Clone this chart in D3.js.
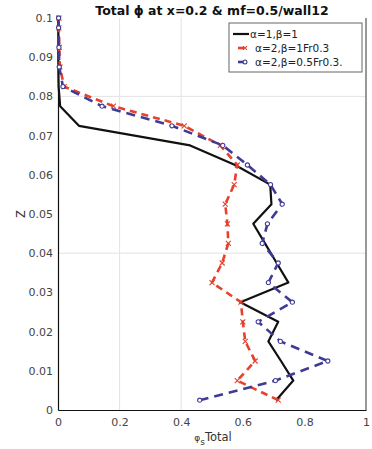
<!DOCTYPE html>
<html>
<head>
<meta charset="utf-8">
<script src="https://cdn.jsdelivr.net/npm/d3@7"></script>
<style>
  body { margin: 0; background: #fff; }
  svg { display: block; }
</style>
</head>
<body>
<svg width="372" height="449"></svg>
<script>
// height of the cell centres (Z)
var zVals = [0.0025, 0.0075, 0.0125, 0.0175, 0.0225, 0.0275, 0.0325, 0.0375, 0.0425, 0.0475,
             0.0525, 0.0575, 0.0625, 0.0675, 0.0725, 0.0775, 0.0825, 0.0875, 0.0925, 0.0975, 0.1];

// phi_s total for each run
var phiA1B1 = [0.708, 0.764, 0.724, 0.683, 0.715, 0.592, 0.748, 0.71, 0.672, 0.634,
               0.693, 0.689, 0.575, 0.429, 0.068, 0.007, 0.002, 0.001, 0.001, 0.001, 0.001];
var phiA2B1 = [0.715, 0.582, 0.64, 0.608, 0.6, 0.594, 0.5, 0.533, 0.553, 0.55,
               0.543, 0.572, 0.582, 0.527, 0.41, 0.18, 0.02, 0.006, 0.004, 0.003, 0.003];
var phiA2B05 = [0.46, 0.706, 0.876, 0.722, 0.65, 0.761, 0.683, 0.715, 0.663, 0.68,
                0.728, 0.69, 0.615, 0.535, 0.37, 0.143, 0.016, 0.004, 0.003, 0.002, 0.002];

var seriesNames = ["\u03b1=1,\u03b2=1", "\u03b1=2,\u03b2=1Fr0.3", "\u03b1=2,\u03b2=0.5Fr0.3."];
var xTicks = [0, 0.2, 0.4, 0.6, 0.8, 1];
var yTicks = [0, 0.01, 0.02, 0.03, 0.04, 0.05, 0.06, 0.07, 0.08, 0.09, 0.1];
var xGrid = [0.2, 0.4];
var yGrid = [0.04, 0.08];

var svg = d3.select("svg");
var font = "'DejaVu Sans', sans-serif";

var margin = { top: 18, bottom: 39, left: 58, right: 6 };
var width = 372 - margin.left - margin.right;
var height = 449 - margin.top - margin.bottom;

var x = d3.scaleLinear().domain([0, 1]).range([margin.left, margin.left + width]);
var y = d3.scaleLinear().domain([0, 0.1]).range([margin.top + height, margin.top]);

// grid
svg.selectAll("line.gx").data(xGrid).enter().append("line")
  .attr("x1", function(d) { return x(d); }).attr("x2", function(d) { return x(d); })
  .attr("y1", y(0)).attr("y2", y(0.1))
  .attr("stroke", "#e3e3e3").attr("stroke-width", 1);
svg.selectAll("line.gy").data(yGrid).enter().append("line")
  .attr("y1", function(d) { return y(d); }).attr("y2", function(d) { return y(d); })
  .attr("x1", x(0)).attr("x2", x(1))
  .attr("stroke", "#e3e3e3").attr("stroke-width", 1);

// right border
svg.append("line")
  .attr("x1", x(1)).attr("x2", x(1)).attr("y1", y(0.1)).attr("y2", y(0))
  .attr("stroke", "#333").attr("stroke-width", 1);

// axes
var xAxis = d3.axisBottom(x).tickValues(xTicks).tickSize(0).tickPadding(8)
  .tickFormat(function(d) { return d === 0 || d === 1 ? d : d3.format(".1f")(d); });
var yAxis = d3.axisLeft(y).tickValues(yTicks).tickSize(0).tickPadding(5)
  .tickFormat(function(d) { return d === 0 ? "0" : (d === 0.1 ? "0.1" : d3.format(".2f")(d)); });

var gx = svg.append("g").attr("transform", "translate(0," + y(0) + ")").call(xAxis);
var gy = svg.append("g").attr("transform", "translate(" + x(0) + ",0)").call(yAxis);
[gx, gy].forEach(function(g) {
  g.select(".domain").attr("stroke", "#111").attr("stroke-width", 1.2);
  g.selectAll("text").attr("font-family", font).attr("font-size", 11).attr("fill", "#444");
});

// lines
var series = [
  { vals: phiA1B1, color: "#111111", dash: null, width: 2.2, marker: null },
  { vals: phiA2B1, color: "#e5412c", dash: "7,5", width: 2.6, marker: "x" },
  { vals: phiA2B05, color: "#3f3b95", dash: "9,6", width: 2.6, marker: "o" }
];

var line = d3.line()
  .x(function(d) { return x(d[0]); })
  .y(function(d) { return y(d[1]); });

series.forEach(function(s) {
  var pts = s.vals.map(function(v, i) { return [v, zVals[i]]; });
  svg.append("path")
    .datum(pts)
    .attr("d", line)
    .attr("fill", "none")
    .attr("stroke", s.color)
    .attr("stroke-width", s.width)
    .attr("stroke-linejoin", "round")
    .attr("stroke-dasharray", s.dash);
  if (s.marker) {
    var sym = s.marker === "o" ? d3.symbolCircle : (d3.symbolTimes || d3.symbolCross);
    svg.selectAll(null).data(pts).enter().append("path")
      .attr("d", d3.symbol().type(sym).size(s.marker === "o" ? 14 : 18))
      .attr("transform", function(d) { return "translate(" + x(d[0]) + "," + y(d[1]) + ")"; })
      .attr("fill", s.marker === "o" ? "#fff" : "none")
      .attr("stroke", s.color)
      .attr("stroke-width", 1.1);
  }
});

// title
svg.append("text")
  .attr("x", 212).attr("y", 15)
  .attr("text-anchor", "middle")
  .attr("font-family", font).attr("font-weight", "bold").attr("font-size", 12.5)
  .attr("fill", "#111")
  .text("Total \u03d5 at x=0.2 & mf=0.5/wall12");

// axis titles
var xl = svg.append("text")
  .attr("x", 213).attr("y", 441)
  .attr("text-anchor", "middle")
  .attr("font-family", font).attr("font-size", 11.5).attr("fill", "#333");
xl.append("tspan").attr("font-size", 9).text("\u03c6");
xl.append("tspan").attr("font-size", 9).attr("dy", 4).text("s");
xl.append("tspan").attr("dy", -4).text("Total");

svg.append("text")
  .attr("transform", "translate(25,214) rotate(-90)")
  .attr("text-anchor", "middle")
  .attr("font-family", font).attr("font-size", 11.5).attr("fill", "#333")
  .text("Z");

// legend
var leg = svg.append("g").attr("transform", "translate(229,23)");
leg.append("rect")
  .attr("width", 133).attr("height", 49)
  .attr("fill", "#fff").attr("stroke", "#666").attr("stroke-width", 1);

series.forEach(function(s, i) {
  var ly = 11 + i * 14;
  var g = leg.append("g").attr("transform", "translate(0," + ly + ")");
  if (i === 0) {
    g.append("line").attr("x1", 4).attr("x2", 20).attr("y1", 0).attr("y2", 0)
      .attr("stroke", s.color).attr("stroke-width", 2.2);
  } else {
    g.append("line").attr("x1", 9).attr("x2", 15).attr("y1", 0).attr("y2", 0)
      .attr("stroke", s.color).attr("stroke-width", 2.6);
    g.append("path")
      .attr("d", d3.symbol().type(s.marker === "o" ? d3.symbolCircle : (d3.symbolTimes || d3.symbolCross)).size(12))
      .attr("transform", "translate(16,0)")
      .attr("fill", s.marker === "o" ? "#fff" : "none")
      .attr("stroke", s.color).attr("stroke-width", 1.1);
  }
  var t = g.append("text")
    .attr("x", i === 0 ? 21 : 26).attr("y", 4)
    .attr("font-family", font).attr("font-size", 10.5).attr("fill", "#222");
  t.text(seriesNames[i]);
});
</script>
</body>
</html>
